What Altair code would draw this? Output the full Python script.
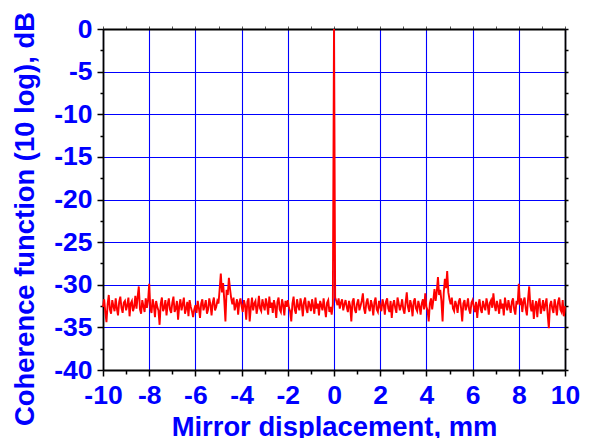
import altair as alt
import pandas as pd

# ---- data, 0.05 mm steps, one list per 1 mm ----
y_m10 = [-32.6, -31.7, -33.2, -34.4, -32.3, -31.2, -32.9, -33.4, -31.8, -32.5,
         -33.1, -31.6, -32.8, -33.6, -32.0, -31.4, -32.7, -33.3, -32.1, -31.9]
y_m9 = [-33.0, -32.4, -31.5, -33.7, -32.2, -31.9, -33.1, -32.6, -31.3, -32.8,
        -31.4, -30.2, -32.9, -33.4, -31.8, -32.5, -33.2, -31.6, -32.7, -31.9]
y_m8 = [-29.9, -32.8, -33.3, -31.7, -32.4, -33.8, -31.9, -32.6, -33.0, -34.7,
        -32.2, -31.5, -33.1, -32.7, -31.8, -33.6, -32.3, -31.6, -32.9, -33.3]
y_m7 = [-32.1, -31.4, -33.2, -32.8, -31.9, -34.1, -32.5, -31.7, -33.0, -32.3,
        -31.5, -33.4, -32.8, -32.0, -33.7, -31.8, -32.6, -33.1, -33.8, -32.9]
y_m6 = [-32.4, -33.3, -31.9, -32.7, -33.9, -32.2, -31.7, -33.0, -32.5, -31.8,
        -33.4, -32.9, -31.6, -32.3, -33.6, -32.1, -31.5, -33.0, -32.6, -31.9]
y_m5 = [-32.2, -30.5, -28.7, -30.9, -29.8, -31.8, -34.3, -30.6, -31.2, -29.2,
        -30.5, -31.6, -32.3, -31.5, -33.0, -32.4, -31.7, -33.5, -32.1, -31.6]
y_m4 = [-32.5, -33.2, -31.8, -32.4, -34.1, -32.0, -31.6, -34.3, -32.7, -31.5,
        -33.0, -32.2, -31.9, -33.4, -32.6, -31.3, -32.8, -33.1, -31.7, -32.4]
y_m3 = [-33.0, -31.6, -32.3, -33.5, -31.4, -32.7, -32.1, -33.3, -31.8, -32.5,
        -33.9, -32.0, -31.5, -32.9, -33.2, -31.7, -32.4, -33.6, -31.9, -32.6]
y_m2 = [-31.8, -32.7, -33.1, -34.3, -32.2, -31.4, -32.9, -33.4, -31.7, -32.5,
        -33.0, -31.6, -32.3, -33.7, -32.0, -31.5, -32.8, -33.3, -31.9, -32.4]
y_m1 = [-33.1, -31.7, -32.5, -33.4, -31.5, -32.8, -32.2, -33.6, -31.9, -32.4,
        -33.0, -31.6, -32.7, -33.8, -32.1, -31.8, -33.2, -32.6, -33.5, -32.3]
y_p0 = [0.0, -31.5, -31.9, -32.4, -31.6, -32.8, -32.1, -31.7, -33.0, -32.3,
        -31.8, -32.6, -33.2, -31.9, -32.5, -34.3, -32.0, -31.6, -32.9, -33.3]
y_p1 = [-32.2, -31.7, -33.0, -32.5, -31.9, -31.0, -32.8, -33.4, -32.1, -31.6,
        -32.7, -33.1, -31.8, -32.4, -33.6, -32.0, -31.5, -32.9, -33.2, -31.9]
y_p2 = [-32.6, -33.1, -31.7, -32.3, -33.5, -32.0, -31.6, -32.8, -33.2, -31.9,
        -33.9, -32.4, -31.8, -32.7, -33.3, -31.5, -32.2, -33.0, -32.5, -31.7]
y_p3 = [-32.9, -33.4, -32.1, -30.9, -32.6, -33.2, -31.8, -32.4, -33.7, -32.0,
        -31.6, -32.8, -33.1, -31.9, -32.5, -33.5, -32.2, -31.7, -32.9, -31.0]
y_p4 = [-32.6, -33.0, -34.3, -32.2, -31.6, -32.9, -31.8, -30.5, -31.9, -30.8,
        -29.1, -31.2, -30.6, -31.9, -34.3, -31.0, -29.3, -30.4, -28.4, -30.9]
y_p5 = [-31.7, -32.3, -31.5, -32.8, -33.1, -31.9, -32.4, -33.3, -32.0, -31.6,
        -32.7, -34.3, -32.2, -31.8, -33.0, -32.5, -31.6, -32.9, -33.4, -32.1]
y_p6 = [-31.8, -32.6, -33.2, -32.0, -33.9, -32.4, -31.7, -32.9, -33.3, -31.9,
        -32.5, -33.0, -31.6, -32.3, -33.5, -32.1, -31.8, -32.7, -31.0, -32.4]
y_p7 = [-33.1, -31.9, -32.5, -33.4, -31.7, -32.8, -32.2, -33.6, -31.5, -32.4,
        -33.0, -31.8, -32.6, -33.3, -32.0, -31.6, -32.9, -33.5, -31.9, -32.3]
y_p8 = [-29.9, -32.4, -31.6, -33.2, -32.0, -31.5, -32.8, -33.6, -31.7, -30.2,
        -32.5, -33.1, -31.8, -34.0, -32.6, -31.9, -33.8, -32.2, -31.6, -33.4]
y_p9 = [-32.7, -31.8, -33.1, -32.3, -31.6, -33.5, -35.1, -32.4, -31.9, -32.8,
        -33.3, -31.7, -32.5, -33.6, -32.0, -31.5, -32.9, -33.2, -31.8, -33.7]
y_end = [-32.5]

x_start = -10.0
x_step = 0.05

x_ticks = [-10, -9, -8, -7, -6, -5, -4, -3, -2, -1, 0,
           1, 2, 3, 4, 5, 6, 7, 8, 9, 10]
y_ticks = [-40, -37.5, -35, -32.5, -30, -27.5, -25, -22.5, -20, -17.5,
           -15, -12.5, -10, -7.5, -5, -2.5, 0]

x_title = "Mirror displacement, mm"
y_title = "Coherence function (10 log), dB"

# ---- build table ----
y_all = (y_m10 + y_m9 + y_m8 + y_m7 + y_m6 + y_m5 + y_m4 + y_m3 + y_m2 + y_m1 +
         y_p0 + y_p1 + y_p2 + y_p3 + y_p4 + y_p5 + y_p6 + y_p7 + y_p8 + y_p9 + y_end)
x_all = [round(x_start + x_step * i, 3) for i in range(len(y_all))]
df = pd.DataFrame({"x": x_all, "y": y_all})

BLUE = "#0000ff"
FONT = "Liberation Sans"


def cond(test, a, b):
    return {"condition": {"test": test, "value": a}, "value": b}


xmaj = "datum.value % 2 === 0"
ymaj = "datum.value % 5 === 0"

xscale = alt.Scale(domain=[-10, 10], nice=False, zero=False)
yscale = alt.Scale(domain=[-40, 0], nice=False, zero=False)

common = dict(
    domainColor="black", domainWidth=1.8,
    tickColor="black", tickWidth=1.5,
    labelFont=FONT, labelFontSize=26.5, labelFontWeight="bold", labelColor=BLUE,
    titleFont=FONT, titleFontSize=27.4, titleFontWeight="bold", titleColor=BLUE,
    gridColor=BLUE, gridWidth=1.1,
)

x_axis = alt.Axis(
    orient="bottom", values=x_ticks, title=x_title,
    labelExpr=xmaj + " ? '' + datum.value : ''",
    tickSize=cond(xmaj, 6, 4), gridOpacity=cond(xmaj, 1, 0),
    grid=True, labelPadding=6, labelFlush=False, labelOverlap=False,
    titleBaseline="alphabetic", titleY=65.5, titleX=231, titleAlign="center",
    **common,
)
y_axis = alt.Axis(
    orient="left", values=y_ticks, title=y_title,
    labelExpr=ymaj + " ? '' + datum.value : ''",
    tickSize=cond(ymaj, 6, 3), gridOpacity=cond(ymaj, 1, 0),
    grid=True, labelPadding=5, labelFlush=False, labelOverlap=False,
    titleAngle=270, titleBaseline="alphabetic", titleAlign="center",
    titleX=-70, titleY=189.5,
    **common,
)

x_axis_top = alt.Axis(
    orient="top", values=x_ticks, title=None, labels=False, grid=False,
    tickSize=3, tickColor="#555555", tickWidth=1,
    domainColor="black", domainWidth=1.8,
)
y_axis_right = alt.Axis(
    orient="right", values=y_ticks, title=None, labels=False, grid=False,
    tickSize=3, tickColor="black", tickWidth=1.5,
    domainColor="black", domainWidth=1.8,
)

base = alt.Chart(df)

frame = base.mark_line(strokeOpacity=0).encode(
    x=alt.X("x:Q", scale=xscale, axis=x_axis_top),
    y=alt.Y("y:Q", scale=yscale, axis=y_axis_right),
)

trace = base.mark_line(color="#ff0000", strokeWidth=1.9).encode(
    x=alt.X("x:Q", scale=xscale, axis=x_axis),
    y=alt.Y("y:Q", scale=yscale, axis=y_axis),
)

chart = (
    alt.layer(frame, trace)
    .resolve_axis(x="independent", y="independent")
    .properties(
        width=462, height=341,
        autosize=alt.AutoSizeParams(type="none"),
        padding={"left": 95, "top": 21, "right": 22, "bottom": 70},
    )
    .configure_view(stroke=None)
    .configure(background="white")
)

chart.save("out.html", embed_options={"renderer": "svg", "actions": False})
